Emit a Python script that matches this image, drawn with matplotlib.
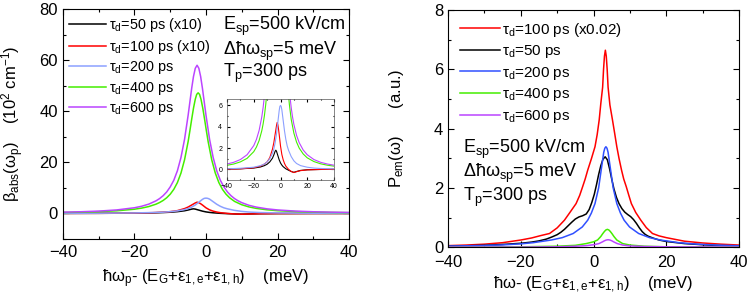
import matplotlib
matplotlib.use("Agg")
import matplotlib.pyplot as plt
from matplotlib.ticker import MultipleLocator

plt.rcParams['font.family'] = ['Liberation Sans', 'DejaVu Sans']
plt.rcParams['mathtext.fontset'] = 'custom'
plt.rcParams['mathtext.rm'] = 'Liberation Sans'
plt.rcParams['mathtext.it'] = 'Liberation Sans'
plt.rcParams['mathtext.bf'] = 'Liberation Sans:bold'

# ---------------- Left panel: absorption (10^2 cm^-1) ----------------
abs_x_600 = [-40, -35, -30, -25, -20, -18, -16, -14, -13, -12, -11, -10, -9, -8, -7, -6, -5, -4.5, -4, -3.5, -3, -2.5,
             -2, -1.5, -1, -0.5, 0, 1, 2, 3, 4, 5, 6, 7, 8, 9, 10, 12, 14, 17, 20, 25, 30, 35, 40]
abs_y_600 = [0.5, 0.66, 0.92, 1.37, 2.23, 2.81, 3.65, 4.92, 5.8, 6.93, 8.4, 10.4, 13.0, 16.7, 21.9, 29, 38.4, 43.7, 49, 53.6, 56.8, 58,
             56.8, 53.6, 49, 43.7, 38.4, 29, 21.9, 16.7, 13.0, 10.4, 8.4, 6.93, 5.8, 4.92, 4.22, 3.19, 2.5, 1.81, 1.37, 0.92, 0.66, 0.5, 0.39]

abs_x_400 = [-40, -35, -30, -25, -20, -18, -16, -14, -13, -12, -11, -10, -9, -8, -7, -6, -5, -4.5, -4, -3.5, -3, -2.6, -2.2,
             -1.8, -1.4, -0.9, -0.4, 0.1, 0.6, 1.6, 2.6, 3.6, 4.6, 5.6, 6.6, 8, 10, 12, 14, 17, 20, 25, 30, 35, 40]
abs_y_400 = [0.38, 0.5, 0.7, 1.03, 1.66, 2.09, 2.7, 3.62, 4.26, 5.07, 6.13, 7.54, 9.44, 12.07, 15.8, 21, 28.1, 32.4, 36.9, 41.2, 44.7, 46.6, 47.2,
             46.6, 44.7, 41.2, 36.9, 32.4, 28.1, 21, 15.8, 12.07, 9.44, 7.54, 6.13, 4.7, 3.4, 2.56, 1.99, 1.44, 1.08, 0.73, 0.52, 0.39, 0.3]

abs_x_200 = [-40, -30, -20, -15, -12, -10, -8, -6, -5, -4, -3, -2, -1, -0.5, 0, 0.5, 1, 2, 3, 4, 5, 6, 8, 10, 12, 15, 20, 25, 30, 40]
abs_y_200 = [0.05, 0.1, 0.2, 0.35, 0.5, 0.7, 1.0, 1.5, 1.9, 2.5, 3.3, 4.4, 5.5, 5.9, 6.0, 5.9, 5.6, 4.6, 3.6, 2.8, 2.2, 1.8, 1.2, 0.8, 0.55, 0.35, 0.2, 0.12, 0.08, 0.04]

abs_x_100 = [-40, -30, -20, -15, -12, -10, -8, -6, -5, -4, -3, -2.5, -2, -1.5, -1, 0, 1, 2, 3, 4, 5, 6, 8, 10, 12, 15, 20, 30, 40]
abs_y_100 = [0.02, 0.05, 0.15, 0.3, 0.5, 0.7, 1.1, 1.9, 2.5, 3.3, 4.1, 4.4, 4.2, 3.8, 3.3, 2.2, 1.4, 0.9, 0.55, 0.3, 0.15, 0.0, -0.2, -0.3, -0.22, -0.12, -0.05, -0.01, 0.0]

abs_x_50 = [-40, -30, -20, -15, -12, -10, -8, -6, -5, -4, -3.5, -3, -2, -1, 0, 1, 2, 4, 6, 8, 10, 12, 15, 20, 30, 40]
abs_y_50 = [0.02, 0.05, 0.12, 0.22, 0.35, 0.48, 0.7, 1.05, 1.35, 1.7, 1.8, 1.7, 1.3, 0.9, 0.6, 0.4, 0.25, 0.05, -0.08, -0.2, -0.28, -0.2, -0.1, -0.04, -0.01, 0.0]

# ---------------- Right panel: emission (a.u.) ----------------
em_x_100 = [-40, -35, -30, -25, -20, -17, -14.5, -12.1, -10, -8, -6.5, -4.8, -3.8, -3, -2.3, -1.6, -0.6, 0.4, 1, 1.56, 2, 2.5, 2.75,
            3.0, 3.25, 3.5, 3.75, 4.0, 4.5, 5.2, 5.8, 6.4, 7.0, 7.7, 8.3, 9, 9.7, 10.4, 11.6, 13, 14.5, 16.2, 18, 20, 25, 30, 35, 40]
em_y_100 = [0.05, 0.07, 0.1, 0.15, 0.24, 0.31, 0.39, 0.46, 0.65, 0.91, 1.17, 1.47, 1.75, 2.04, 2.3, 2.6, 2.98, 3.39, 3.8, 4.3, 4.85, 5.4, 6.0,
            6.45, 6.65, 6.45, 6.0, 5.4, 4.8, 4.3, 3.85, 3.39, 3.0, 2.6, 2.3, 2.04, 1.75, 1.47, 1.17, 0.91, 0.66, 0.46, 0.38, 0.32, 0.2, 0.14, 0.1, 0.07]

em_x_50 = [-40, -35, -30, -25, -20, -17, -15, -13, -11.5, -10, -9, -8, -7, -6, -5, -4, -3, -2, -1.2, -0.5, 0.2, 0.8, 1.4, 2, 2.6,
           3.2, 3.8, 4.4, 5, 5.6, 6.3, 7, 7.8, 8.6, 9.4, 10.2, 11, 11.8, 12.6, 13.4, 14.2, 15, 16.5, 18, 20, 25, 30, 35, 40]
em_y_50 = [0.03, 0.045, 0.06, 0.09, 0.13, 0.17, 0.21, 0.27, 0.34, 0.42, 0.5, 0.6, 0.72, 0.84, 0.95, 1.02, 1.06, 1.12, 1.27, 1.5, 1.78, 2.1, 2.45, 2.75, 2.97,
           3.05, 2.95, 2.65, 2.3, 1.97, 1.68, 1.47, 1.3, 1.18, 1.1, 1.03, 0.93, 0.8, 0.65, 0.52, 0.43, 0.37, 0.3, 0.24, 0.19, 0.12, 0.08, 0.05, 0.04]

em_x_200 = [-40, -30, -25, -20, -16.6, -11.6, -8.6, -5.6, -3.1, -1.6, -0.6, 0.4, 1.4, 2.1, 2.8, 3.1, 3.4, 3.7, 4.0, 4.7, 5.4, 6.4,
            7.4, 8.4, 9.9, 12.4, 15.4, 18.4, 23.4, 28.4, 33.4, 40]
em_y_200 = [0.035, 0.055, 0.075, 0.11, 0.15, 0.24, 0.32, 0.46, 0.68, 0.91, 1.15, 1.47, 2.0, 2.6, 3.2, 3.34, 3.39, 3.34, 3.2, 2.6, 2.0, 1.47,
            1.15, 0.91, 0.68, 0.46, 0.32, 0.24, 0.15, 0.1, 0.07, 0.045]

em_x_400 = [-40, -20, -10, -5, -2, 0, 1.1, 2, 2.5, 3, 3.4, 3.8, 4.2, 4.6, 5.1, 5.6, 6.4, 8, 10, 14, 20, 40]
em_y_400 = [0.0, 0.01, 0.03, 0.06, 0.12, 0.18, 0.24, 0.36, 0.45, 0.53, 0.58, 0.6, 0.58, 0.53, 0.45, 0.36, 0.24, 0.12, 0.07, 0.03, 0.01, 0.0]

em_x_600 = [-40, -20, -10, -5, -2, 0, 1.5, 2.5, 3.0, 3.5, 4, 4.5, 5.0, 5.5, 6.5, 8, 10, 14, 20, 40]
em_y_600 = [0.0, 0.0, 0.01, 0.03, 0.05, 0.08, 0.12, 0.18, 0.215, 0.24, 0.25, 0.24, 0.215, 0.18, 0.12, 0.07, 0.04, 0.02, 0.01, 0.0]

labels_left = [r'$\tau_d$=50 ps (x10)', r'$\tau_d$=100 ps (x10)', r'$\tau_d$=200 ps',
               r'$\tau_d$=400 ps', r'$\tau_d$=600 ps']
labels_right = [r'$\tau_d$=100 ps (x0.02)', r'$\tau_d$=50 ps', r'$\tau_d$=200 ps',
                r'$\tau_d$=400 ps', r'$\tau_d$=600 ps']

C_BLACK = '#000000'
C_RED = '#ff0000'
C_BLUE_L = '#8ca0ff'
C_BLUE_R = '#3050ff'
C_GREEN = '#44ee00'
C_PURPLE = '#bb44ff'
LW = 1.1

fig = plt.figure(figsize=(7.48, 3.01), dpi=100)


def style(ax, size=12, maj_len=4, min_len=2, xpad=5):
    ax.tick_params(which='both', direction='in', top=True, right=True, labelsize=size)
    ax.tick_params(which='major', length=maj_len, width=0.8)
    ax.tick_params(which='minor', length=min_len, width=0.8)
    ax.tick_params(axis='x', which='major', pad=xpad)
    for s in ax.spines.values():
        s.set_linewidth(0.8)


# Left axes
axL = fig.add_axes([0.0842, 0.206, 0.3824, 0.764])
left_series = [(abs_x_50, abs_y_50, C_BLACK), (abs_x_100, abs_y_100, C_RED),
               (abs_x_200, abs_y_200, C_BLUE_L), (abs_x_400, abs_y_400, C_GREEN),
               (abs_x_600, abs_y_600, C_PURPLE)]
handles = []
for (xs, ys, c), lab in zip(left_series, labels_left):
    h, = axL.plot(xs, ys, color=c, lw=LW, label=lab)
    handles.append(h)
axL.set_xlim(-40, 40)
axL.set_ylim(-10, 80)
axL.xaxis.set_major_locator(MultipleLocator(20))
axL.xaxis.set_minor_locator(MultipleLocator(10))
axL.yaxis.set_major_locator(MultipleLocator(20))
axL.yaxis.set_minor_locator(MultipleLocator(10))
style(axL, xpad=4)
axL.set_xlabel(r'$\hbar\omega_p$- (E$_G$+$\varepsilon_{1,e}$+$\varepsilon_{1,h}$)    (meV)', fontsize=12)
axL.xaxis.set_label_coords(0.5, -0.125)
axL.set_ylabel(r'$\beta_{abs}(\omega_p)$    (10$^2$ cm$^{-1}$)', fontsize=12)
axL.yaxis.set_label_coords(-0.13, 0.5)
axL.legend(handles=handles, loc='upper left', bbox_to_anchor=(0.0, 0.995), frameon=False,
           fontsize=10.4, handlelength=2.6, handletextpad=0.2, labelspacing=0.25,
           borderaxespad=0.0)
tx = 0.56
axL.text(tx, 0.925, r'E$_{sp}$=500 kV/cm', transform=axL.transAxes, fontsize=13, va='center')
axL.text(tx, 0.817, r'$\Delta\hbar\omega_{sp}$=5 meV', transform=axL.transAxes, fontsize=13, va='center')
axL.text(tx, 0.72, r'T$_p$=300 ps', transform=axL.transAxes, fontsize=13, va='center')

# Inset
axI = fig.add_axes([0.3035, 0.402, 0.143, 0.269])
for xs, ys, c in left_series:
    axI.plot(xs, ys, color=c, lw=0.8)
axI.set_xlim(-40, 40)
axI.set_ylim(-1, 6.6)
axI.xaxis.set_major_locator(MultipleLocator(20))
axI.xaxis.set_minor_locator(MultipleLocator(10))
axI.yaxis.set_major_locator(MultipleLocator(2))
axI.yaxis.set_minor_locator(MultipleLocator(1))
style(axI, size=5, maj_len=2, min_len=1, xpad=2)
for s in axI.spines.values():
    s.set_linewidth(0.5)
    s.set_color('#555555')

# Right axes
axR = fig.add_axes([0.599, 0.179, 0.389, 0.787])
right_series = [(em_x_100, em_y_100, C_RED), (em_x_50, em_y_50, C_BLACK),
                (em_x_200, em_y_200, C_BLUE_R), (em_x_400, em_y_400, C_GREEN),
                (em_x_600, em_y_600, C_PURPLE)]
handlesR = []
for (xs, ys, c), lab in zip(right_series, labels_right):
    h, = axR.plot(xs, ys, color=c, lw=LW, label=lab)
    handlesR.append(h)
axR.set_xlim(-40, 40)
axR.set_ylim(0, 8)
axR.xaxis.set_major_locator(MultipleLocator(20))
axR.xaxis.set_minor_locator(MultipleLocator(10))
axR.yaxis.set_major_locator(MultipleLocator(2))
axR.yaxis.set_minor_locator(MultipleLocator(1))
style(axR, xpad=6)
axR.set_xlabel(r'$\hbar\omega$- (E$_G$+$\varepsilon_{1,e}$+$\varepsilon_{1,h}$)    (meV)', fontsize=12)
axR.xaxis.set_label_coords(0.5, -0.115)
axR.set_ylabel(r'P$_{em}(\omega)$      (a.u.)', fontsize=12)
axR.yaxis.set_label_coords(-0.145, 0.5)
axR.legend(handles=handlesR, loc='upper left', bbox_to_anchor=(0.01, 0.995), frameon=False,
           fontsize=11, handlelength=2.6, handletextpad=0.15, labelspacing=0.3,
           borderaxespad=0.2)
tx = 0.05
axR.text(tx, 0.412, r'E$_{sp}$=500 kV/cm', transform=axR.transAxes, fontsize=13, va='center')
axR.text(tx, 0.31, r'$\Delta\hbar\omega_{sp}$=5 meV', transform=axR.transAxes, fontsize=13, va='center')
axR.text(tx, 0.208, r'T$_p$=300 ps', transform=axR.transAxes, fontsize=13, va='center')

fig.savefig('out.png', dpi=100)
